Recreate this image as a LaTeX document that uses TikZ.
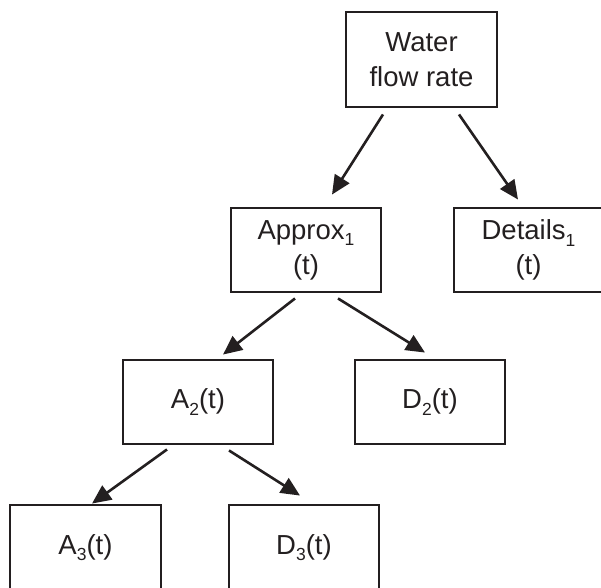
\documentclass[tikz,border=0pt]{standalone}
\usepackage{fontspec}
\setmainfont{Liberation Sans}
\usetikzlibrary{arrows.meta}
\definecolor{ink}{HTML}{231F20}
\newcommand\sbs[1]{\raisebox{-0.24em}{\fontsize{17.5}{17.5}\selectfont #1}}
\begin{document}
\begin{tikzpicture}[x=1pt,y=-1pt,
  box/.style={draw=ink, line width=2.9pt, rectangle, inner sep=0pt, align=center,
    text=ink, font=\fontsize{27.5}{35}\selectfont},
  arr/.style={draw=ink, line width=2.6pt, -{Triangle[length=19pt,width=17pt]}}]
\useasboundingbox (0,0) rectangle (601,587);
\clip (0,0) rectangle (601,587);
\node[box, minimum width=151pt, minimum height=95pt] (water) at (421.5,59.5) {Water\\flow rate};
\node[box, minimum width=150pt, minimum height=84pt] (approx) at (306,250) {Approx\sbs{1}\\(t)};
\node[box, minimum width=149pt, minimum height=84pt] (details) at (528.5,250) {Details\sbs{1}\\(t)};
\node[box, minimum width=150pt, minimum height=84pt] (a2) at (198,402) {A\sbs{2}(t)};
\node[box, minimum width=150pt, minimum height=84pt] (d2) at (430,402) {D\sbs{2}(t)};
\node[box, minimum width=151pt, minimum height=85pt] (a3) at (85.5,547.5) {A\sbs{3}(t)};
\node[box, minimum width=150pt, minimum height=85pt] (d3) at (304,547.5) {D\sbs{3}(t)};
\draw[arr] ([shift={(-38.5,6)}]water.south) -- ([shift={(26,-12)}]approx.north);
\draw[arr] ([shift={(37.5,6)}]water.south) -- ([shift={(-10.5,-7)}]details.north);
\draw[arr] ([shift={(-11,5)}]approx.south) -- ([shift={(25,-4)}]a2.north);
\draw[arr] ([shift={(32,5)}]approx.south) -- ([shift={(-5,-6)}]d2.north);
\draw[arr] ([shift={(-31,4)}]a2.south) -- ([shift={(6.5,0)}]a3.north);
\draw[arr] ([shift={(31,5)}]a2.south) -- ([shift={(-4,-8)}]d3.north);
\end{tikzpicture}
\end{document}
